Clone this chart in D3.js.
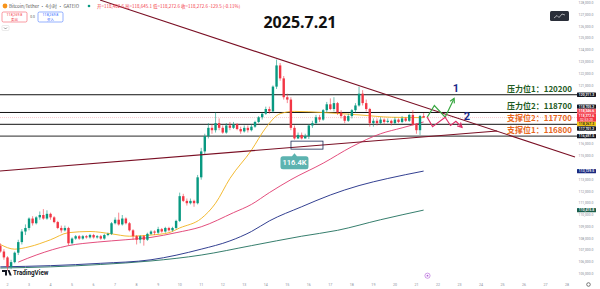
<!DOCTYPE html>
<html><head><meta charset="utf-8">
<script src="https://cdn.jsdelivr.net/npm/d3@7"></script>
<style>
html,body{margin:0;padding:0;background:#fff;overflow:hidden}
svg{display:block}
</style></head><body>
<svg id="chart" width="600" height="289"></svg>
<script>
// BTC/USDT 4h candles, first bar Jul 1 16:00, last bar Jul 21 08:00 (prices in USDT thousands)
const opens = [107.4,106.9,106.4,105.6,106.0,106.8,107.7,108.6,108.9,109.7,109.3,109.8,110.0,109.7,110.1,109.8,109.4,108.9,108.7,108.9,
107.6,108.0,108.2,108.0,108.2,108.1,108.3,108.1,108.2,108.0,108.3,108.4,109.3,109.6,109.2,109.7,109.3,108.7,108.2,107.9,
108.2,107.9,108.4,108.6,108.5,108.8,108.6,108.9,108.7,108.9,109.5,111.6,111.2,111.0,111.2,111.0,113.2,115.4,116.7,117.4,
117.2,117.8,117.4,117.0,117.6,117.4,117.7,117.3,117.1,117.4,117.2,117.5,117.9,118.3,118.6,119.0,118.8,120.9,122.7,121.6,
120.0,119.8,117.4,116.5,116.8,116.5,116.7,117.6,117.8,118.3,118.1,118.9,119.4,119.0,119.5,118.7,118.4,118.0,118.4,118.9,
119.3,120.3,119.5,119.0,117.8,118.0,117.8,118.1,117.9,118.0,117.8,118.1,117.9,118.2,118.0,118.5,117.7,117.2,118.4026];
const highs = [107.6,107.1,106.5,106.2,106.9,107.9,108.8,109.2,109.8,109.9,109.9,110.3,110.5,110.4,110.2,109.9,109.5,109.1,109.1,109.0,
108.1,108.3,108.3,108.3,108.3,108.4,108.4,108.3,108.3,108.4,108.5,109.4,109.8,110.2,110.0,109.8,109.4,108.8,108.3,108.3,
108.3,108.5,108.7,108.7,109.0,108.9,109.0,109.0,109.0,109.6,111.9,111.8,111.4,111.4,111.3,113.4,115.7,116.9,117.8,117.7,
118.7,118.2,117.6,117.8,117.9,117.9,117.8,117.5,117.6,117.6,117.7,118.0,118.4,118.7,119.2,119.2,121.0,123.2,122.9,121.8,
120.3,120.0,117.6,117.0,117.0,116.9,117.7,118.0,118.5,118.5,119.0,119.6,119.9,120.0,119.6,118.9,118.5,118.6,119.0,119.5,
120.9,120.6,119.8,119.1,118.2,118.2,118.3,118.2,118.2,118.1,118.3,118.2,118.4,118.3,118.6,118.9,117.8,118.5,118.6451];
const lows = [106.8,106.2,105.3,105.4,105.9,106.6,107.5,108.3,108.7,109.1,109.2,109.6,109.6,109.6,109.6,109.3,108.8,108.5,108.6,107.4,
107.5,107.9,107.9,107.9,108.0,108.0,108.0,108.0,107.9,107.9,108.2,108.3,109.2,109.1,109.1,109.2,108.6,107.9,107.5,107.6,
107.4,107.8,108.3,108.3,108.4,108.5,108.5,108.6,108.6,108.8,109.4,111.1,110.8,110.9,110.7,110.9,113.0,115.1,116.5,116.9,
117.0,117.2,116.9,116.9,117.2,117.3,117.2,116.9,117.0,117.0,117.1,117.4,117.8,118.1,118.5,118.6,118.7,120.7,121.4,119.8,
119.5,117.2,116.4,116.45,116.42,116.5,116.45,117.4,117.7,117.9,118.0,118.7,118.9,118.8,118.5,118.2,117.8,117.9,118.2,118.7,
119.2,119.3,118.8,117.5,117.5,117.6,117.7,117.7,117.8,117.6,117.7,117.8,117.8,117.9,117.9,117.6,116.9,116.8,118.2726];
const closes = [106.9,106.4,105.6,106.0,106.8,107.7,108.6,108.9,109.7,109.3,109.8,110.0,109.7,110.1,109.8,109.4,108.9,108.7,108.9,107.6,
108.0,108.2,108.0,108.2,108.1,108.3,108.1,108.2,108.0,108.3,108.4,109.3,109.6,109.2,109.7,109.3,108.7,108.2,107.9,108.2,
107.9,108.4,108.6,108.5,108.8,108.6,108.9,108.7,108.9,109.5,111.6,111.2,111.0,111.2,111.0,113.2,115.4,116.7,117.4,117.2,
117.8,117.4,117.0,117.6,117.4,117.7,117.3,117.1,117.4,117.2,117.5,117.9,118.3,118.6,119.0,118.8,120.9,122.7,121.6,120.0,
119.8,117.4,116.5,116.8,116.5,116.7,117.6,117.8,118.3,118.1,118.9,119.4,119.0,119.5,118.7,118.4,118.0,118.4,118.9,119.3,
120.3,119.5,119.0,117.8,118.0,117.8,118.1,117.9,118.0,117.8,118.1,117.9,118.2,118.0,118.5,117.7,117.2,118.4,118.2726];
const firstBarIndex = 0;           // bar 2 sits on Jul 2 00:00, six bars per day
const pullbackBars = [81, 87];     // range searched for the marked pullback low

// moving averages, sampled as [bar index, price]
const maYellow = [[0,107.5],[4,107.1],[8,107.3],[14,107.9],[19,108.5],[25,108.6],[31,108.4],[36,108.2],[42,108.3],[47,108.5],[50,108.9],[56,109.7],[60,111.0],[64,113.1],[70,115.5],[74,117.4],[78,118.6],[82,118.8],[90,118.7],[100,118.5],[109,118.3],[118,118.2673]];
const maPink = [[5,106.0],[10,106.6],[19,107.4],[27,107.7],[35,107.9],[42,108.1],[49,108.5],[56,109.0],[65,110.2],[70,110.9],[75,111.9],[81,113.0],[90,114.4],[98,115.8],[106,116.9],[112,117.4],[118,117.9]];
const maNavy = [[0,105.6],[14,105.7],[28,105.9],[42,106.2],[56,107.1],[64,107.8],[70,108.6],[75,109.5],[84,110.7],[92,111.7],[100,112.5],[108,113.1],[118,113.7295]];
const maTeal = [[0,105.5],[14,105.6],[28,105.8],[42,106.1],[56,106.6],[70,107.4],[84,108.2],[94,108.7],[106,109.6],[118,110.4158]];

// support / resistance levels and their captions
const levels = [120.2113, 118.7052, 117.7012, 116.6975];
const levelCaptions = ["压力位1：120200", "压力位2：118700", "支撑位2：117700", "支撑位1：116800"];
const levelColors = ["#1e5b23", "#1e5b23", "#e8671c", "#e8671c"];

// trend lines [bar index, price]
const trendDown = [[27.8,128.25],[160.2,114.93]];
const trendUp = [[-0.1,113.74],[138.5,117.13]];

// projected paths after the last bar
const pathUp = [[119,118.30],[121,119.3],[124,118.3],[126.5,119.9]];
const pathDown = [[119,118.30],[120.5,117.5],[124,118.3],[125.5,117.6],[127,117.95],[128.7,117.45]];

const priceTicks = d3.range(105, 129, 1);
const dayTicks = d3.range(2, 29);

const axisTags = [
  {v:120.2113, text:"120,211.3", bg:"#131722", fg:"#fff"},
  {v:118.7052, text:"118,705.2", bg:"#131722", fg:"#fff"},
  {v:118.3466, text:"118,346.6", bg:"#f7525f", fg:"#fff"},
  {v:118.2726, text:"118,272.6", sub:"02:53:20", bg:"#f23645", fg:"#fff", anchor:true},
  {v:118.2673, text:"118,267.3", bg:"#f5c518", fg:"#131722"},
  {v:117.7012, text:"117,701.2", bg:"#131722", fg:"#fff"},
  {v:116.6975, text:"116,697.5", bg:"#131722", fg:"#fff"},
  {v:113.7295, text:"113,729.5", bg:"#1a2a80", fg:"#fff"},
  {v:110.4158, text:"110,415.8", bg:"#1b5e4a", fg:"#fff"}
];

const svg = d3.select("#chart");
const W = 600, H = 289, plotRight = 577;

const x = d3.scaleLinear().domain([2, 158]).range([7.5, 567.1]);
const y = d3.scaleLinear().domain([105, 128]).range([273.9, 3]);
const up = "#089981", down = "#f23645";
const fmt = d3.format(",.1f");
const sans = "Roboto, 'Noto Sans', sans-serif";
const cjk = "'Noto Sans CJK SC', 'Noto Sans', sans-serif";

svg.append("rect").attr("width", W).attr("height", H).attr("fill", "#fff");

const defs = svg.append("defs");
defs.append("clipPath").attr("id", "plot").append("rect").attr("x", 0).attr("y", 0).attr("width", plotRight).attr("height", 280);

// price tags on the axis, stacked so they do not overlap
const tagH = 4.4;
const tags = axisTags.map(t => ({...t, h: t.sub ? 8.6 : tagH, c: y(t.v)}));
const ai = tags.findIndex(t => t.anchor);
for (let i = ai - 1; i >= 0; i--) {
  const lim = tags[i + 1].c - tags[i + 1].h / 2 - tags[i].h / 2;
  if (tags[i].c > lim) tags[i].c = lim;
}
for (let i = ai + 1; i < tags.length; i++) {
  const lim = tags[i - 1].c + tags[i - 1].h / 2 + tags[i].h / 2;
  if (tags[i].c < lim) tags[i].c = lim;
}

// price axis labels, hidden where a tag covers them
const freeTicks = priceTicks.filter(t => tags.every(g => Math.abs(y(t) - g.c) > g.h / 2 + 2.2));
svg.append("g").selectAll("text").data(freeTicks).join("text")
  .attr("x", 586).attr("y", d => y(d) + 1.1)
  .attr("text-anchor", "middle").attr("font-family", sans).attr("font-size", 3.4).attr("fill", "#8a8e99")
  .text(d => fmt(d * 1000));

// time axis labels
svg.append("g").selectAll("text").data(dayTicks).join("text")
  .attr("x", d => x(2 + (d - 2) * 6)).attr("y", 286)
  .attr("text-anchor", "middle").attr("font-family", sans).attr("font-size", 3.6).attr("fill", "#8a8e99")
  .text(d => d);

const plot = svg.append("g").attr("clip-path", "url(#plot)");

// level lines
plot.append("g").selectAll("line").data(levels).join("line")
  .attr("x1", 0).attr("x2", plotRight).attr("y1", d => y(d)).attr("y2", d => y(d))
  .attr("stroke", (d, i) => i === 3 ? "#555" : "#111").attr("stroke-width", (d, i) => i === 3 ? 1.3 : 1);

// last price line
plot.append("line").attr("x1", 0).attr("x2", plotRight)
  .attr("y1", y(closes[closes.length - 1])).attr("y2", y(closes[closes.length - 1]))
  .attr("stroke", "#f7b3ba").attr("stroke-width", 0.7).attr("stroke-dasharray", "1,1");

// moving averages
const maLine = d3.line().x(d => x(d[0] + firstBarIndex)).y(d => y(d[1])).curve(d3.curveMonotoneX);
[[maTeal, "#1f6f5c"], [maNavy, "#1c2a85"], [maPink, "#e03a6e"], [maYellow, "#f2b21c"]].forEach(([data, c]) => {
  plot.append("path").attr("d", maLine(data)).attr("fill", "none").attr("stroke", c).attr("stroke-width", 0.9);
});

// candles
const bars = plot.append("g").selectAll("g").data(opens.map((o, i) => i)).join("g");
bars.append("line")
  .attr("x1", i => x(i + firstBarIndex)).attr("x2", i => x(i + firstBarIndex))
  .attr("y1", i => y(highs[i])).attr("y2", i => y(lows[i]))
  .attr("stroke", i => closes[i] >= opens[i] ? up : down).attr("stroke-width", 0.6);
bars.append("rect")
  .attr("x", i => x(i + firstBarIndex) - 1.2).attr("width", 2.4)
  .attr("y", i => y(Math.max(opens[i], closes[i])))
  .attr("height", i => Math.max(0.6, Math.abs(y(opens[i]) - y(closes[i]))))
  .attr("fill", i => closes[i] >= opens[i] ? up : down);

// trend lines
const tl = d3.line().x(d => x(d[0])).y(d => y(d[1]));
plot.append("path").attr("d", tl(trendDown)).attr("stroke", "#7a0f24").attr("stroke-width", 1.1).attr("fill", "none");
plot.append("path").attr("d", tl(trendUp)).attr("stroke", "#7a0f24").attr("stroke-width", 1.1).attr("fill", "none");

// pullback low: box under the lows and a badge with the value
const seg = d3.range(pullbackBars[0], pullbackBars[1] + 1);
const lowIdx = seg[d3.minIndex(seg, i => lows[i])];
const lowVal = lows[lowIdx];
plot.append("rect").attr("x", x(lowIdx) - 3.5).attr("y", y(lowVal) + 1.5).attr("width", 32).attr("height", 8)
  .attr("fill", "none").attr("stroke", "#1c2a55").attr("stroke-width", 0.8);
const bx = x(lowIdx), by = y(lowVal) + 16.5;
svg.append("path").attr("d", `M${bx - 11.5},${by} h23 a2.5,2.5 0 0 1 2.5,2.5 v8 a2.5,2.5 0 0 1 -2.5,2.5 h-23 a2.5,2.5 0 0 1 -2.5,-2.5 v-8 a2.5,2.5 0 0 1 2.5,-2.5 z M${bx - 2.5},${by} l2.5,-3 l2.5,3 z`)
  .attr("fill", "#5cb3b0");
svg.append("text").attr("x", bx).attr("y", by + 9).attr("text-anchor", "middle")
  .attr("font-family", sans).attr("font-size", 7.5).attr("font-weight", 600).attr("fill", "#fff").text(lowVal.toFixed(1) + "K");

// projected paths
function arrow(g, pts, color) {
  const p = pts.map(d => [x(d[0]), y(d[1])]);
  g.append("path").attr("d", d3.line()(p)).attr("fill", "none").attr("stroke", color).attr("stroke-width", 1.2);
  const [ax, ay] = p[p.length - 1], [bx2, by2] = p[p.length - 2];
  const a = Math.atan2(ay - by2, ax - bx2), L = 5;
  g.append("path").attr("d", `M${ax - L * Math.cos(a - 0.5)},${ay - L * Math.sin(a - 0.5)} L${ax},${ay} L${ax - L * Math.cos(a + 0.5)},${ay - L * Math.sin(a + 0.5)}`)
    .attr("fill", "none").attr("stroke", color).attr("stroke-width", 1.2);
}
arrow(svg, pathUp, "#3aa843");
arrow(svg, pathDown, "#e0306a");
svg.append("text").attr("x", 456).attr("y", y(pathUp[3][1]) - 6).attr("text-anchor", "middle")
  .attr("font-family", sans).attr("font-weight", 700).attr("font-size", 11).attr("fill", "#1b2a8a").text("1");
svg.append("text").attr("x", 467).attr("y", y(pathDown[3][1]) - 5).attr("text-anchor", "middle")
  .attr("font-family", sans).attr("font-weight", 700).attr("font-size", 11).attr("fill", "#1b2a8a").text("2");

// level captions
svg.append("g").selectAll("text").data(levels).join("text")
  .attr("x", 572).attr("y", (d, i) => y(d) - 3)
  .attr("text-anchor", "end").attr("font-family", cjk).attr("font-weight", 700).attr("font-size", 8)
  .attr("fill", (d, i) => levelColors[i]).text((d, i) => levelCaptions[i]);

const tg = svg.append("g").selectAll("g").data(tags).join("g");
tg.append("rect").attr("x", 577).attr("y", d => d.c - d.h / 2).attr("width", 19).attr("height", d => d.h).attr("rx", 0.6).attr("fill", d => d.bg);
tg.append("text").attr("x", 586.5).attr("y", d => d.sub ? d.c - 0.6 : d.c + 1.2).attr("text-anchor", "middle")
  .attr("font-family", sans).attr("font-weight", 600).attr("font-size", 3.4).attr("fill", d => d.fg).text(d => d.text);
tg.filter(d => d.sub).append("text").attr("x", 586.5).attr("y", d => d.c + 3.2).attr("text-anchor", "middle")
  .attr("font-family", sans).attr("font-size", 3.4).attr("fill", "#fff").text(d => d.sub);

// title
svg.append("text").attr("x", 300).attr("y", 28).attr("text-anchor", "middle")
  .attr("font-family", "'Noto Sans', sans-serif").attr("font-weight", 700).attr("font-size", 16).attr("fill", "#111").text("2025.7.21");

// header
svg.append("circle").attr("cx", 5).attr("cy", 6).attr("r", 2.4).attr("fill", "#f7931a");
svg.append("text").attr("x", 9).attr("y", 7.6).attr("font-family", cjk).attr("font-size", 4.5).attr("fill", "#555")
  .text("Bitcoin/Tether · 4小时 · GATEIO");
svg.append("circle").attr("cx", 89).attr("cy", 6).attr("r", 1.3).attr("fill", "#089981");
svg.append("text").attr("x", 97).attr("y", 7.6).attr("font-family", cjk).attr("font-size", 4.5).attr("fill", "#f23645")
  .text("开=118,402.6 高=118,645.1 低=118,272.6 收=118,272.6 -129.5 (-0.11%)");
const hb = svg.append("g");
hb.append("rect").attr("x", 2).attr("y", 12).attr("width", 25).attr("height", 10).attr("rx", 1.5).attr("fill", "#fff").attr("stroke", "#f23645").attr("stroke-width", 0.5);
hb.append("text").attr("x", 14.5).attr("y", 16.2).attr("text-anchor", "middle").attr("font-family", sans).attr("font-size", 3.6).attr("fill", "#f23645").text("118,269.8");
hb.append("text").attr("x", 14.5).attr("y", 20.6).attr("text-anchor", "middle").attr("font-family", cjk).attr("font-size", 3.4).attr("fill", "#f23645").text("卖出");
hb.append("text").attr("x", 32.5).attr("y", 18).attr("text-anchor", "middle").attr("font-family", sans).attr("font-size", 3.4).attr("fill", "#555").text("0.0");
hb.append("rect").attr("x", 38).attr("y", 12).attr("width", 25).attr("height", 10).attr("rx", 1.5).attr("fill", "#fff").attr("stroke", "#2962ff").attr("stroke-width", 0.5);
hb.append("text").attr("x", 50.5).attr("y", 16.2).attr("text-anchor", "middle").attr("font-family", sans).attr("font-size", 3.6).attr("fill", "#2962ff").text("118,269.8");
hb.append("text").attr("x", 50.5).attr("y", 20.6).attr("text-anchor", "middle").attr("font-family", cjk).attr("font-size", 3.4).attr("fill", "#2962ff").text("买入");
hb.append("rect").attr("x", 2).attr("y", 25.5).attr("width", 7).attr("height", 5).attr("rx", 1).attr("fill", "#fff").attr("stroke", "#ccc").attr("stroke-width", 0.4);
hb.append("path").attr("d", "M4,27.5 L5.5,29 L7,27.5").attr("fill", "none").attr("stroke", "#333").attr("stroke-width", 0.5);

// corner widget
svg.append("rect").attr("x", 550).attr("y", 11).attr("width", 19).attr("height", 10).attr("rx", 1.5).attr("fill", "#2a2e39");
svg.append("path").attr("d", "M554,18 L557,15.5 L559,17.5 L562,14 L565,15").attr("fill", "none").attr("stroke", "#fff").attr("stroke-width", 0.6);

// watermark
svg.append("path").attr("d", "M2,270 h5 v5.5 h-2 v-3.5 h-3 z M7.5,270 h2 l2.2,5.5 h-2 z").attr("fill", "#131722");
svg.append("text").attr("x", 13).attr("y", 275.2).attr("font-family", sans).attr("font-weight", 700).attr("font-size", 6.3).attr("fill", "#131722").text("TradingView");

// session marker and settings icon
svg.append("circle").attr("cx", 427.5).attr("cy", 275.7).attr("r", 2.6).attr("fill", "none").attr("stroke", "#b05ad8").attr("stroke-width", 0.6);
svg.append("circle").attr("cx", 427.5).attr("cy", 275.7).attr("r", 0.9).attr("fill", "#b05ad8");
svg.append("circle").attr("cx", 588.5).attr("cy", 284.5).attr("r", 1.8).attr("fill", "none").attr("stroke", "#444").attr("stroke-width", 0.7);
</script>
</body></html>
